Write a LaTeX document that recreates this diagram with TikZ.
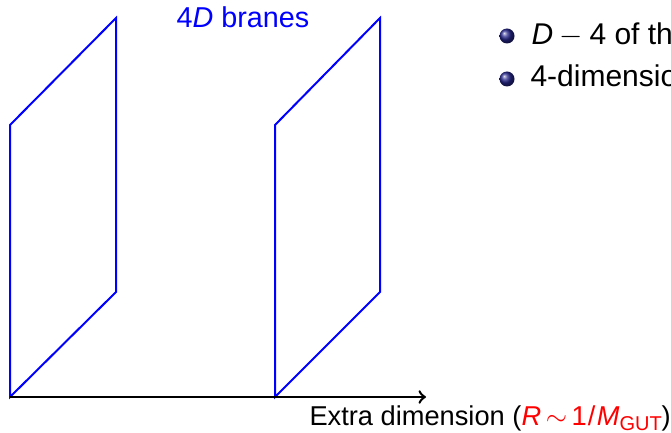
\documentclass[tikz,border=0pt]{standalone}
\usepackage{fontspec}
\setmainfont{Liberation Sans}
\usetikzlibrary{positioning}
\definecolor{braneblue}{RGB}{0,0,255}
\definecolor{scalered}{RGB}{255,0,0}
\definecolor{ballblue}{rgb}{0.15,0.15,0.55}
\tikzset{
    brane/.style={draw=braneblue, line width=0.8pt, line join=miter},
    extraaxis/.style={->, black, line width=1pt},
    branelabel/.style={text=braneblue, anchor=base, inner sep=0pt, font=\fontsize{11.5}{13}\selectfont},
    axislabel/.style={anchor=base west, inner sep=0pt, font=\fontsize{10.9}{13}\selectfont},
    itemball/.style={circle, inner sep=0pt, minimum size=6pt, shade, shading=ball, ball color=ballblue},
    itemtext/.style={anchor=base west, inner sep=0pt, font=\fontsize{12}{14}\selectfont},
}

\begin{document}
\begin{tikzpicture}[x=0.4pt, y=-0.4pt]
    \useasboundingbox (0,0) rectangle (671,432);
    \clip (0,0) rectangle (671,432);

    % Left brane
    \coordinate (L1) at (10,397);
    \coordinate (L2) at (10,125);
    \coordinate (L3) at (116,18);
    \coordinate (L4) at (116,292);
    \draw[brane] (L1) -- (L2) -- (L3) -- (L4) -- cycle;

    % Right brane
    \coordinate (R1) at (275,397);
    \coordinate (R2) at (275,125);
    \coordinate (R3) at (380,18);
    \coordinate (R4) at (380,292);
    \draw[brane] (R1) -- (R2) -- (R3) -- (R4) -- cycle;

    \node[branelabel] (branes) at (243,28) {4\textit{D} branes};

    % Extra dimension
    \coordinate (axisend) at (426,397);
    \draw[extraaxis] (L1) -- (axisend);
    \node[axislabel] (extra) at (309,425)
        {Extra dimension ({\color{scalered}\textit{R}\,$\sim$\,1\kern0.5pt/\kern0.5pt\textit{M}\raisebox{-0.35ex}{\fontsize{8}{9}\selectfont GUT}})};

    % Bullets
    \node[itemball] (ball1) at (507,36) {};
    \node[itemtext] (item1) at (531,45) {\textit{D}\kern0.6pt\,$-$\,\kern0.6pt4 of the};
    \node[itemball] (ball2) at (507,79) {};
    \node[itemtext] (item2) at (530,87) {4-dimensional};
\end{tikzpicture}
\end{document}
